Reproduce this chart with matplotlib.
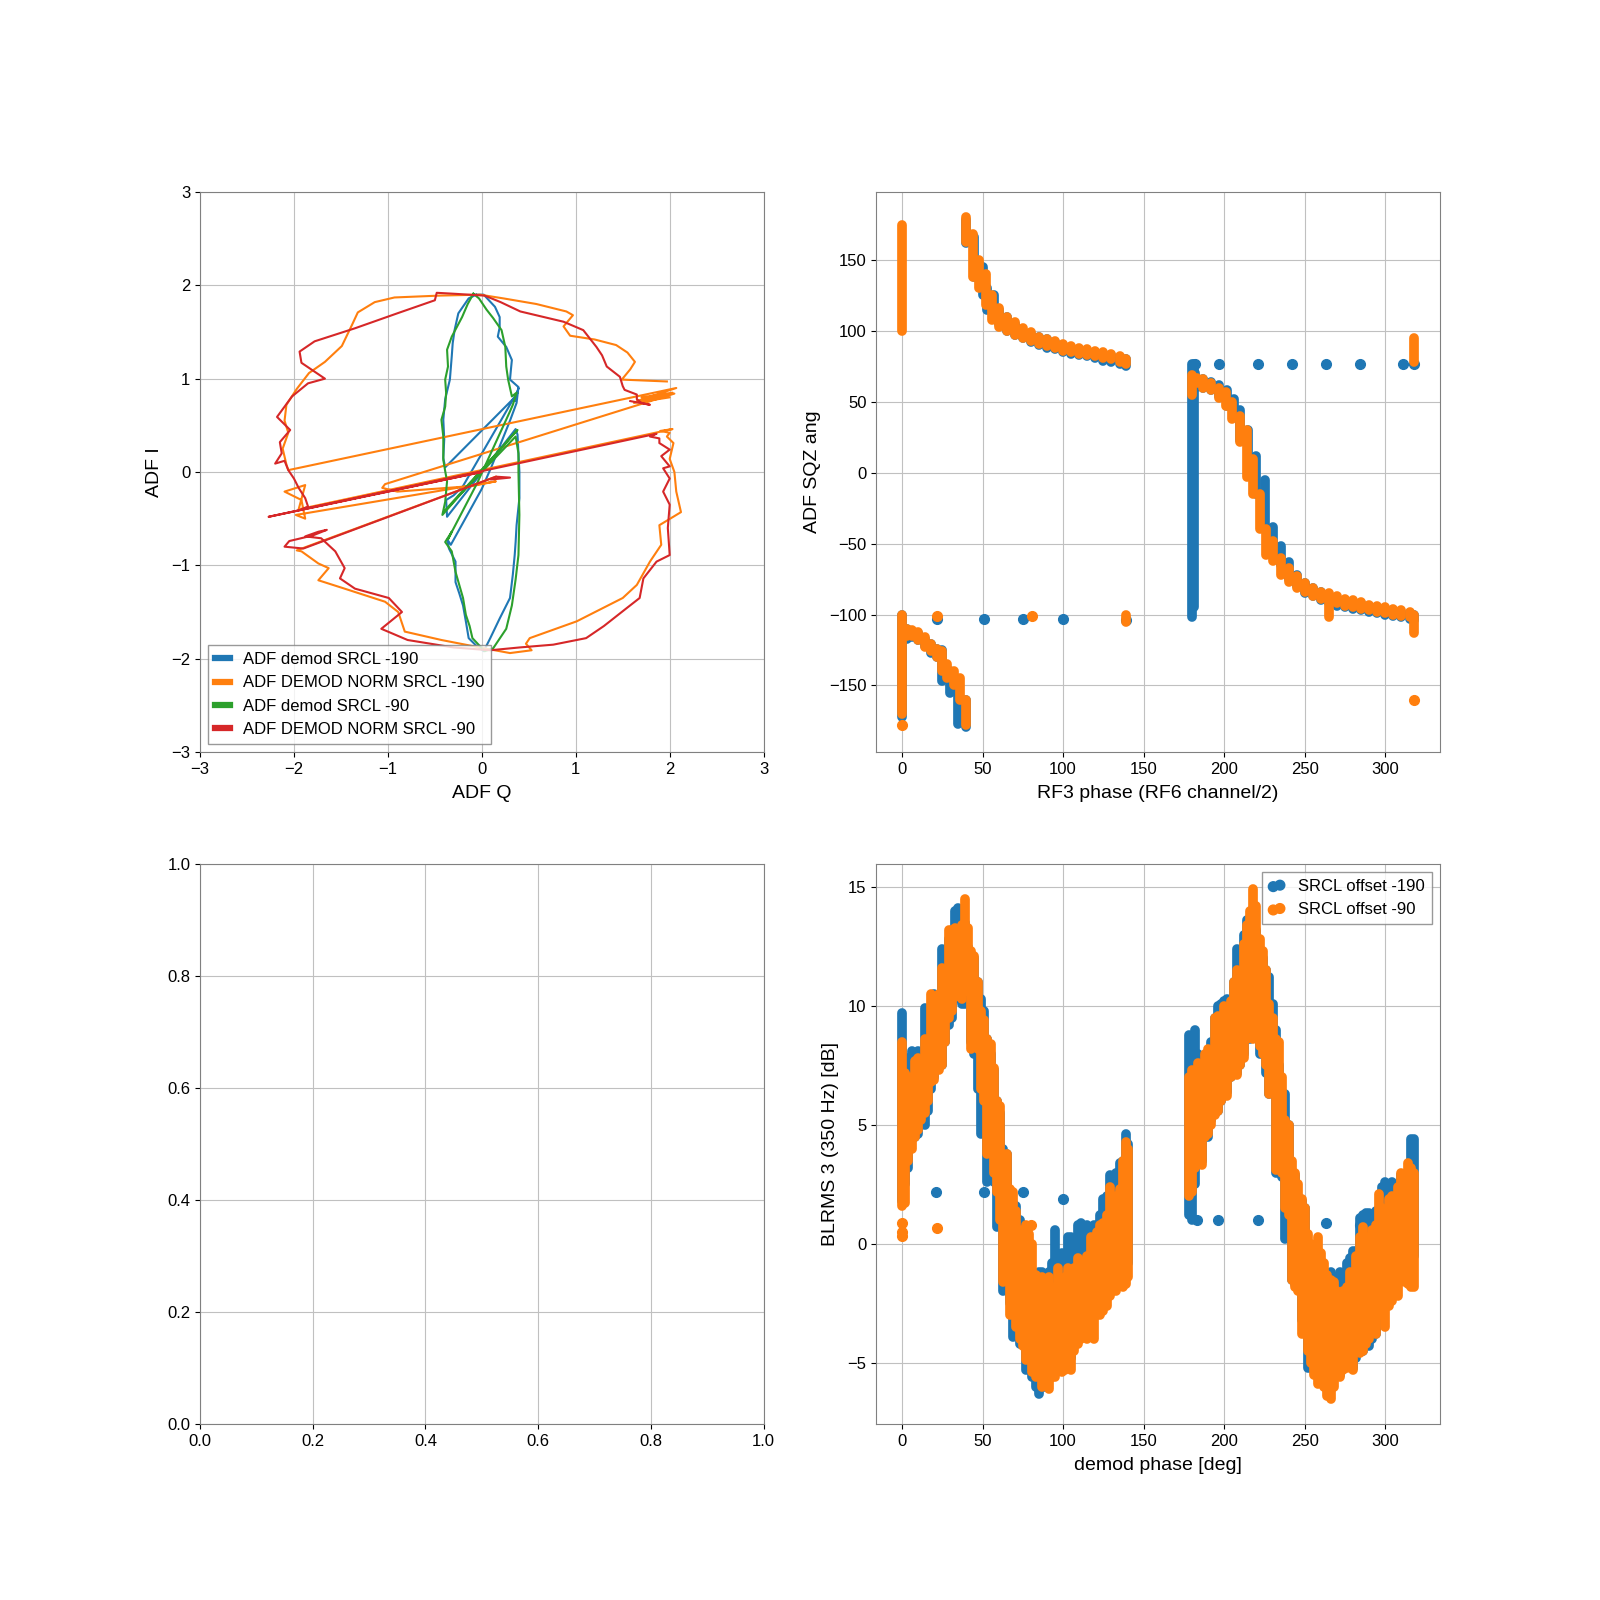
import numpy as np
import matplotlib
matplotlib.use("Agg")
import matplotlib.pyplot as plt

# ---- top-left: ADF I/Q traces (Q, I) ----
demod_190 = [(-0.06, 1.90), (-0.14, 1.86), (-0.25, 1.70), (-0.29, 1.52), (-0.31, 1.38), (-0.32, 1.24),
             (-0.34, 0.99), (-0.39, 0.78), (-0.41, 0.56), (-0.40, 0.35), (-0.41, 0.15), (-0.39, 0.05),
             (0.37, 0.82), (0.39, 0.90), (0.35, 0.76), (0.38, 0.86),
             (-0.20, -0.15), (-0.30, -0.25), (-0.38, -0.30), (-0.37, -0.48),
             (0.36, 0.46), (0.38, 0.40), (0.39, 0.20), (0.40, 0.00), (0.40, -0.28), (0.37, -0.57),
             (0.36, -0.75), (0.35, -0.89), (0.33, -1.10), (0.30, -1.35), (0.19, -1.57), (0.09, -1.78),
             (0.02, -1.92), (-0.05, -1.87), (-0.14, -1.78), (-0.17, -1.60), (-0.20, -1.43), (-0.24, -1.30),
             (-0.28, -1.18), (-0.28, -0.96), (-0.35, -0.82), (-0.37, -0.72), (-0.33, -0.78),
             (0.00, -0.18), (0.10, 0.05), (0.30, 0.55), (0.37, 0.74), (0.39, 0.91), (0.30, 0.99),
             (0.31, 1.10), (0.32, 1.20), (0.26, 1.34), (0.17, 1.45), (0.19, 1.55), (0.19, 1.66),
             (0.14, 1.77), (0.02, 1.90), (-0.06, 1.90)]

norm_190 = [(1.97, 0.97), (1.49, 0.99), (1.58, 1.10), (1.63, 1.18), (1.55, 1.28), (1.43, 1.36), (1.20, 1.42),
            (0.94, 1.46), (0.87, 1.56), (0.97, 1.68), (0.90, 1.72), (0.58, 1.80), (0.23, 1.86), (-0.02, 1.90),
            (-0.45, 1.89), (-0.93, 1.87), (-1.14, 1.82), (-1.32, 1.71), (-1.38, 1.58), (-1.49, 1.35),
            (-1.67, 1.18), (-1.84, 1.06), (-1.97, 0.89), (-2.08, 0.72), (-2.10, 0.55), (-2.06, 0.42),
            (-2.12, 0.25), (-2.08, 0.08), (-2.06, 0.02),
            (2.07, 0.90), (1.65, 0.76), (2.03, 0.85), (1.70, 0.80), (2.00, 0.80), (1.62, 0.74), (2.05, 0.84),
            (-1.03, -0.13), (-1.06, -0.17), (-0.90, -0.21), (-0.50, -0.18), (-0.10, -0.15), (0.15, -0.10),
            (-1.98, -0.46), (-1.88, -0.50), (-1.92, -0.30), (-2.10, -0.21), (-1.88, -0.14), (-1.95, -0.40),
            (2.03, 0.46), (1.90, 0.44), (2.00, 0.42), (1.97, 0.38), (2.04, 0.31), (2.00, 0.14), (2.05, 0.00),
            (2.07, -0.21), (2.12, -0.43), (1.89, -0.57), (1.91, -0.78), (1.79, -0.96), (1.65, -1.21),
            (1.50, -1.35), (1.01, -1.60), (0.51, -1.78), (0.47, -1.84), (0.53, -1.91), (0.30, -1.94),
            (0.03, -1.89), (-0.43, -1.80), (-0.82, -1.71), (-0.89, -1.50), (-1.03, -1.39), (-1.46, -1.25),
            (-1.74, -1.16), (-1.63, -1.03), (-1.74, -0.98), (-1.92, -0.85), (-1.97, -0.84), (0.15, -0.05)]

demod_90 = [(-0.09, 1.91), (-0.15, 1.80), (-0.21, 1.66), (-0.32, 1.45), (-0.37, 1.31), (-0.36, 1.13),
            (-0.39, 0.99), (-0.38, 0.85), (-0.39, 0.70), (-0.43, 0.56), (-0.41, 0.38), (-0.41, 0.13),
            (-0.39, 0.01), (-0.37, -0.10), (-0.39, -0.32), (-0.42, -0.46),
            (0.35, 0.42), (0.38, 0.45), (-0.40, -0.42), (0.36, 0.38),
            (0.39, 0.20), (0.39, 0.00), (0.40, -0.46), (0.39, -0.89), (0.36, -1.15), (0.32, -1.43),
            (0.26, -1.68), (0.12, -1.89), (0.03, -1.92), (-0.10, -1.78), (-0.13, -1.65), (-0.17, -1.53),
            (-0.20, -1.35), (-0.28, -1.07), (-0.32, -0.85), (-0.39, -0.75), (-0.32, -0.64), (-0.36, -0.72),
            (-0.05, -0.12), (0.30, 0.65), (0.33, 0.72), (0.37, 0.85), (0.32, 0.81), (0.28, 0.99),
            (0.26, 1.13), (0.25, 1.34), (0.21, 1.52), (0.12, 1.65), (0.05, 1.74), (-0.03, 1.86), (-0.09, 1.91)]

norm_90 = [(1.58, 0.76), (1.79, 0.72), (1.70, 0.74), (1.65, 0.78), (1.65, 0.83), (1.52, 0.88), (1.50, 0.92),
           (1.47, 1.02), (1.33, 1.13), (1.28, 1.25), (1.22, 1.34), (1.08, 1.52), (0.87, 1.61), (0.41, 1.72),
           (0.20, 1.82), (0.03, 1.89), (-0.30, 1.91), (-0.48, 1.92), (-0.50, 1.84), (-0.90, 1.70),
           (-1.35, 1.54), (-1.78, 1.40), (-1.94, 1.29), (-1.92, 1.17), (-1.67, 1.00), (-1.85, 0.95),
           (-2.02, 0.81), (-2.18, 0.59), (-2.04, 0.45), (-2.15, 0.32), (-2.13, 0.20), (-2.20, 0.09),
           (-2.10, 0.12), (-2.06, 0.02), (-2.00, -0.07), (-1.95, -0.17), (-1.88, -0.28), (-1.85, -0.37),
           (-1.92, -0.40), (0.00, 0.00), (-2.27, -0.48),
           (1.86, 0.41), (1.79, 0.38), (1.89, 0.36), (1.89, 0.31), (2.00, 0.24), (1.91, 0.17), (2.00, 0.06),
           (1.93, 0.04), (2.00, -0.07), (1.93, -0.21), (2.00, -0.35), (1.98, -0.60), (2.00, -0.89),
           (1.86, -0.96), (1.72, -1.14), (1.68, -1.35), (1.54, -1.46), (1.30, -1.65), (1.11, -1.78),
           (0.76, -1.85), (0.40, -1.88), (0.09, -1.91), (-0.30, -1.88), (-0.79, -1.80), (-1.07, -1.68),
           (-0.85, -1.50), (-0.99, -1.35), (-1.35, -1.25), (-1.51, -1.14), (-1.46, -1.03), (-1.56, -0.85),
           (-1.71, -0.71), (-1.88, -0.69), (-1.74, -0.64), (-1.65, -0.62), (-1.80, -0.68), (-2.05, -0.74),
           (-2.10, -0.80), (-1.90, -0.82), (0.15, -0.05), (0.30, -0.06), (0.10, -0.08)]

iq_labels = ['ADF demod SRCL -190', 'ADF DEMOD NORM SRCL -190',
             'ADF demod SRCL -90', 'ADF DEMOD NORM SRCL -90']

# ---- top-right: SQZ angle vs RF3 phase, columns (x, low, high) ----
sqz_b_x = [0, 3, 6, 10, 14, 18, 22, 25, 30, 35, 40, 40, 45, 50, 53, 57, 60, 65, 70, 75, 80, 85, 90, 95,
           100, 105, 110, 115, 120, 125, 130, 135, 139, 180, 182, 187, 192, 197, 202, 206, 210, 215, 220,
           225, 230, 235, 240, 245, 250, 255, 260, 265, 270, 275, 280, 285, 290, 295, 300, 305, 310, 315, 318,
           181]
sqz_b_lo = [-172, -117, -116, -118, -122, -127, -130, -147, -155, -177, -179, 162, 138, 125, 115, 110, 105,
            100, 97, 95, 92, 90, 88, 87, 85, 84, 83, 82, 81, 79, 78, 77, 75, -102, 60, 60, 58, 54, 47, 40,
            23, 3, -15, -38, -55, -65, -75, -80, -85, -87, -90, -92, -94, -95, -96, -97, -98, -99, -100,
            -101, -102, -103, -104, -95]
sqz_b_hi = [-100, -110, -112, -113, -117, -121, -124, -125, -140, -150, -160, 178, 166, 145, 130, 125, 115,
            110, 105, 100, 98, 96, 94, 92, 90, 88, 87, 86, 85, 84, 83, 81, 80, 77, 70, 66, 64, 62, 58, 52,
            44, 30, 12, -5, -38, -52, -63, -72, -78, -81, -84, -86, -89, -90, -91, -92, -94, -95, -96,
            -97, -98, -99, -100, 77]
sqz_b_pt_x = [22, 51, 75, 100, 139, 182, 197, 221, 242, 263, 284, 311, 318]
sqz_b_pt_y = [-103, -103, -103, -103, -104, 77, 77, 77, 77, 77, 77, 77, 77]

sqz_o_x = [0, 0, 3, 6, 10, 14, 18, 22, 25, 28, 32, 36, 40, 40, 44, 48, 52, 56, 60, 65, 70, 75, 80, 85,
           90, 95, 100, 105, 110, 115, 120, 125, 130, 135, 139, 139, 180, 183, 187, 192, 197, 201, 205,
           210, 214, 218, 222, 226, 230, 235, 240, 245, 250, 255, 260, 265, 270, 275, 280, 285, 290,
           295, 300, 305, 310, 315, 318, 318]
sqz_o_lo = [100, -170, -115, -115, -118, -123, -126, -130, -140, -145, -150, -160, -178, 163, 138, 130,
            118, 108, 103, 100, 97, 95, 93, 91, 89, 88, 86, 85, 84, 83, 82, 81, 80, 78, 77, -105, 55, 63,
            60, 58, 53, 47, 38, 22, -3, -15, -40, -58, -62, -72, -77, -81, -84, -87, -89, -102, -92,
            -94, -95, -96, -97, -98, -99, -100, -101, -102, -113, 78]
sqz_o_hi = [175, -100, -110, -111, -112, -116, -121, -124, -126, -135, -140, -145, -160, 180, 168, 150,
            140, 125, 116, 110, 106, 102, 99, 96, 94, 93, 91, 89, 88, 87, 86, 85, 84, 82, 80, -100, 69,
            67, 66, 63, 60, 57, 50, 40, 30, 10, -15, -40, -48, -60, -67, -73, -78, -81, -84, -85, -87,
            -89, -90, -91, -93, -94, -95, -96, -97, -98, -100, 95]
sqz_o_pt_x = [22, 81, 318, 0]
sqz_o_pt_y = [-101, -101, -160, -178]

# ---- bottom-right: BLRMS vs demod phase, columns (x, low, high) ----
bl_b_x = [0, 2, 4, 6, 8, 10, 12, 14, 16, 18, 20, 23, 25, 27, 29, 31, 33, 35, 37, 39, 41, 43, 45, 47, 49,
          51, 53, 55, 57, 59, 61, 63, 65, 67, 69, 71, 73, 75, 77, 79, 81, 83, 85, 87, 89, 91, 93, 95, 97,
          99, 101, 103, 105, 107, 109, 111, 113, 115, 117, 119, 121, 123, 125, 127, 129, 131, 133, 135,
          137, 139, 140,
          178, 180, 182, 184, 186, 188, 190, 192, 194, 196, 198, 200, 202, 204, 206, 208, 210, 212, 214,
          216, 218, 220, 222, 224, 226, 228, 230, 232, 234, 236, 238, 240, 242, 244, 246, 248, 250, 252,
          254, 256, 258, 260, 262, 264, 266, 268, 270, 272, 274, 276, 278, 280, 282, 284, 286, 288, 290,
          292, 294, 296, 298, 300, 302, 304, 306, 308, 310, 312, 314, 316, 318]
bl_b_lo = [1.8, 2.5, 3.2, 4.4, 4.5, 4.6, 5.0, 5.0, 5.6, 6.5, 7.0, 7.8, 7.5, 8.5, 9.2, 9.5, 10.3, 10.5,
           10.1, 10.1, 10.8, 8.5, 8.0, 6.5, 4.6, 4.8, 2.6, 3.0, 2.6, 0.7, 1.5, -2.0, -1.0, -2.5, -3.9,
           -3.8, -4.2, -4.0, -5.3, -5.0, -5.6, -6.0, -6.3, -5.8, -6.0, -5.5, -5.6, -5.2, -5.0, -4.8, -5.2,
           -4.6, -4.8, -4.3, -4.0, -3.5, -3.0, -3.6, -3.0, -2.8, -2.5, -2.0, -2.4, -2.0, -1.8, -1.5, -1.2,
           -1.0, -1.2, -1.0, -0.8,
           1.2, 1.0, 2.5, 3.5, 3.5, 4.5, 4.5, 5.2, 5.5, 5.6, 6.0, 6.2, 6.4, 7.0, 7.5, 7.2, 7.5, 8.0, 8.6,
           8.6, 8.7, 8.7, 8.0, 8.3, 7.2, 6.3, 6.4, 3.0, 3.0, 2.8, 0.2, 0.5, -1.5, -1.7, -1.5, -3.2, -3.3,
           -5.2, -5.2, -5.0, -5.4, -5.5, -5.8, -6.0, -6.0, -5.5, -5.3, -5.5, -5.0, -5.0, -5.0, -5.2, -4.8,
           -4.5, -4.5, -4.2, -4.3, -4.0, -3.8, -3.0, -2.5, -2.5, -2.2, -2.0, -1.8, -1.5, -1.5, -1.2, -1.0,
           -0.8, -0.5]
bl_b_hi = [9.7, 7.0, 7.8, 8.1, 7.6, 8.1, 8.0, 9.9, 9.7, 9.2, 10.5, 10.4, 12.4, 12.2, 12.8, 13.2, 14.0,
           14.1, 13.0, 13.5, 12.5, 12.2, 12.0, 11.0, 10.3, 9.8, 8.6, 8.0, 7.3, 6.0, 5.5, 4.0, 3.8, 2.0,
           1.7, 1.6, 1.0, 0.8, -1.3, -1.5, -1.3, -1.5, -1.2, -1.2, -1.6, -1.2, -0.8, 0.6, -0.8, -0.4, -0.5,
           0.3, 0.3, -0.2, 0.8, 0.9, 0.5, 0.8, 0.3, 0.8, 0.8, 1.2, 1.9, 2.0, 2.9, 2.6, 3.0, 3.4, 3.5, 4.6,
           4.2,
           8.8, 8.5, 9.0, 8.0, 7.6, 7.5, 7.8, 8.5, 9.5, 10.0, 10.1, 10.2, 10.3, 9.6, 11.0, 12.4, 12.2,
           13.0, 13.6, 13.4, 14.0, 13.2, 12.2, 12.0, 11.5, 11.2, 10.1, 9.0, 7.5, 6.4, 6.3, 5.0, 3.0, 2.9,
           2.0, 1.8, 1.5, -0.3, -0.5, -0.8, -1.2, -1.4, -1.2, -1.3, -1.2, -1.6, -1.4, -1.2, -1.6, -0.8,
           -0.6, -0.3, -0.3, 1.1, 1.2, 1.3, 1.3, 1.2, 1.4, 1.2, 2.4, 2.6, 2.4, 2.6, 2.0, 2.3, 2.9, 2.8,
           3.0, 4.4, 4.4]
bl_b_pt_x = [21, 51, 75, 100, 183, 196, 221, 263, 284]
bl_b_pt_y = [2.2, 2.2, 2.2, 1.9, 1.0, 1.0, 1.0, 0.9, 0.8]

bl_o_x = bl_b_x
bl_o_lo = [1.6, 1.7, 3.5, 4.0, 4.5, 4.8, 5.2, 5.5, 6.0, 6.8, 6.9, 7.3, 7.5, 8.5, 9.5, 9.8, 10.4, 10.5,
           10.3, 10.6, 10.8, 8.2, 8.4, 8.2, 6.5, 6.0, 3.8, 4.0, 3.0, 2.2, 1.0, -1.6, -1.2, -3.0, -2.6,
           -3.5, -4.0, -4.3, -4.9, -4.7, -5.4, -5.6, -5.5, -6.0, -5.8, -6.1, -5.6, -5.6, -5.2, -5.4, -5.3,
           -4.8, -5.3, -4.5, -4.2, -4.0, -3.8, -4.0, -3.2, -4.0, -3.0, -3.0, -2.8, -2.6, -2.2, -2.0, -2.0,
           -1.2, -1.8, -1.7, -1.4,
           2.0, 2.2, 3.2, 3.5, 3.3, 4.5, 4.6, 5.0, 5.4, 5.6, 6.0, 6.2, 6.2, 7.0, 7.2, 7.1, 7.5, 7.8, 8.6,
           8.8, 8.6, 9.0, 8.3, 8.0, 7.5, 6.3, 6.5, 3.1, 3.5, 3.0, 1.5, 1.2, -1.5, -1.8, -2.0, -3.8, -3.8,
           -4.5, -5.0, -5.5, -5.9, -5.8, -6.0, -6.4, -6.5, -6.0, -5.5, -5.6, -5.3, -5.2, -5.0, -5.3, -4.5,
           -4.6, -4.5, -4.2, -4.0, -3.6, -3.8, -2.5, -3.0, -3.5, -2.6, -2.4, -1.9, -2.2, -1.5, -1.6, -1.7,
           -1.8, -1.8]
bl_o_hi = [8.5, 7.2, 7.0, 7.0, 7.7, 7.8, 7.0, 8.6, 8.5, 10.5, 10.4, 10.5, 11.6, 11.5, 13.2, 13.2, 13.3,
           12.8, 13.4, 14.5, 13.3, 12.3, 12.1, 11.0, 9.8, 9.4, 8.6, 8.4, 7.4, 6.0, 5.8, 3.8, 3.8, 2.3, 2.2,
           1.4, 0.6, 0.5, 0.8, 0.4, 0.0, -1.3, -1.5, -1.4, -2.0, -1.4, -2.3, -1.8, -1.0, -1.5, -1.4, -1.0,
           -1.5, -1.0, -0.6, -0.7, -1.0, -0.5, 0.3, 0.0, 0.5, 0.8, 0.9, 1.2, 2.4, 1.6, 2.0, 2.3, 3.5, 4.3,
           4.0,
           7.0, 7.3, 7.0, 7.6, 7.3, 8.0, 8.2, 8.0, 9.5, 9.6, 9.4, 10.0, 9.8, 10.2, 11.0, 11.5, 11.4, 12.6,
           13.4, 14.0, 14.9, 14.2, 12.8, 12.3, 11.5, 10.1, 9.5, 8.6, 8.5, 7.0, 5.2, 5.0, 3.5, 3.0, 2.5,
           1.9, 1.5, 0.4, 0.0, -0.5, 0.3, -0.4, -0.8, -1.3, -1.5, -1.6, -2.0, -2.5, -2.0, -1.8, -1.2, -1.5,
           -0.5, 0.3, 0.7, 0.3, 0.3, 0.6, 0.8, 2.1, 1.5, 1.2, 1.9, 2.0, 1.5, 2.4, 3.0, 2.8, 3.4, 3.2, 3.0]
bl_o_pt_x = [0, 0, 0, 22, 80]
bl_o_pt_y = [0.9, 0.5, 0.35, 0.65, 0.8]

plt.rcParams['font.family'] = ['Liberation Sans', 'DejaVu Sans']
plt.rcParams['font.size'] = 12
plt.rcParams['axes.labelsize'] = 14
plt.rcParams['axes.labelpad'] = 6
plt.rcParams['axes.edgecolor'] = '#808080'
plt.rcParams['axes.grid'] = True
plt.rcParams['axes.axisbelow'] = True
plt.rcParams['grid.color'] = '#c0c0c0'
plt.rcParams['grid.linewidth'] = 0.8
plt.rcParams['legend.fancybox'] = False
plt.rcParams['legend.edgecolor'] = '#808080'
plt.rcParams['legend.handlelength'] = 0.9

blue, orange, green, red = '#1f77b4', '#ff7f0e', '#2ca02c', '#d62728'
dot_lw = 7.0

fig, axs = plt.subplots(2, 2, figsize=(16, 16), dpi=100)

# top-left
ax = axs[0, 0]
for trace, col, lab in zip([demod_190, norm_190, demod_90, norm_90],
                           [blue, orange, green, red], iq_labels):
    arr = np.array(trace)
    ax.plot(arr[:, 0], arr[:, 1], color=col, lw=1.5, label=lab)
ax.set_xlim(-3, 3)
ax.set_ylim(-3, 3)
ax.set_xlabel('ADF Q')
ax.set_ylabel('ADF I')
leg = ax.legend(loc='lower left')
for h in leg.legend_handles:
    h.set_linewidth(4.5)

# top-right
ax = axs[0, 1]
ax.vlines(sqz_b_x, sqz_b_lo, sqz_b_hi, colors=blue, lw=dot_lw, capstyle='round', zorder=2)
ax.scatter(sqz_b_pt_x, sqz_b_pt_y, s=dot_lw ** 2, color=blue, linewidths=1, zorder=2)
ax.vlines(sqz_o_x, sqz_o_lo, sqz_o_hi, colors=orange, lw=dot_lw, capstyle='round', zorder=3)
ax.scatter(sqz_o_pt_x, sqz_o_pt_y, s=dot_lw ** 2, color=orange, linewidths=1, zorder=3)
ax.set_xlabel('RF3 phase (RF6 channel/2)')
ax.set_ylabel('ADF SQZ ang')

# bottom-left (empty)
ax = axs[1, 0]

# bottom-right
ax = axs[1, 1]
ax.vlines(bl_b_x, bl_b_lo, bl_b_hi, colors=blue, lw=dot_lw, capstyle='round', zorder=2)
ax.scatter(bl_b_pt_x, bl_b_pt_y, s=dot_lw ** 2, color=blue, linewidths=1, zorder=2,
           label='SRCL offset -190')
ax.vlines(bl_o_x, bl_o_lo, bl_o_hi, colors=orange, lw=dot_lw, capstyle='round', zorder=3)
ax.scatter(bl_o_pt_x, bl_o_pt_y, s=dot_lw ** 2, color=orange, linewidths=1, zorder=3,
           label='SRCL offset -90')
ax.set_xlabel('demod phase [deg]')
ax.set_ylabel('BLRMS 3 (350 Hz) [dB]')
ax.legend(loc='upper right', scatterpoints=2, handlelength=1.0)

fig.savefig('out.png', dpi=100)
